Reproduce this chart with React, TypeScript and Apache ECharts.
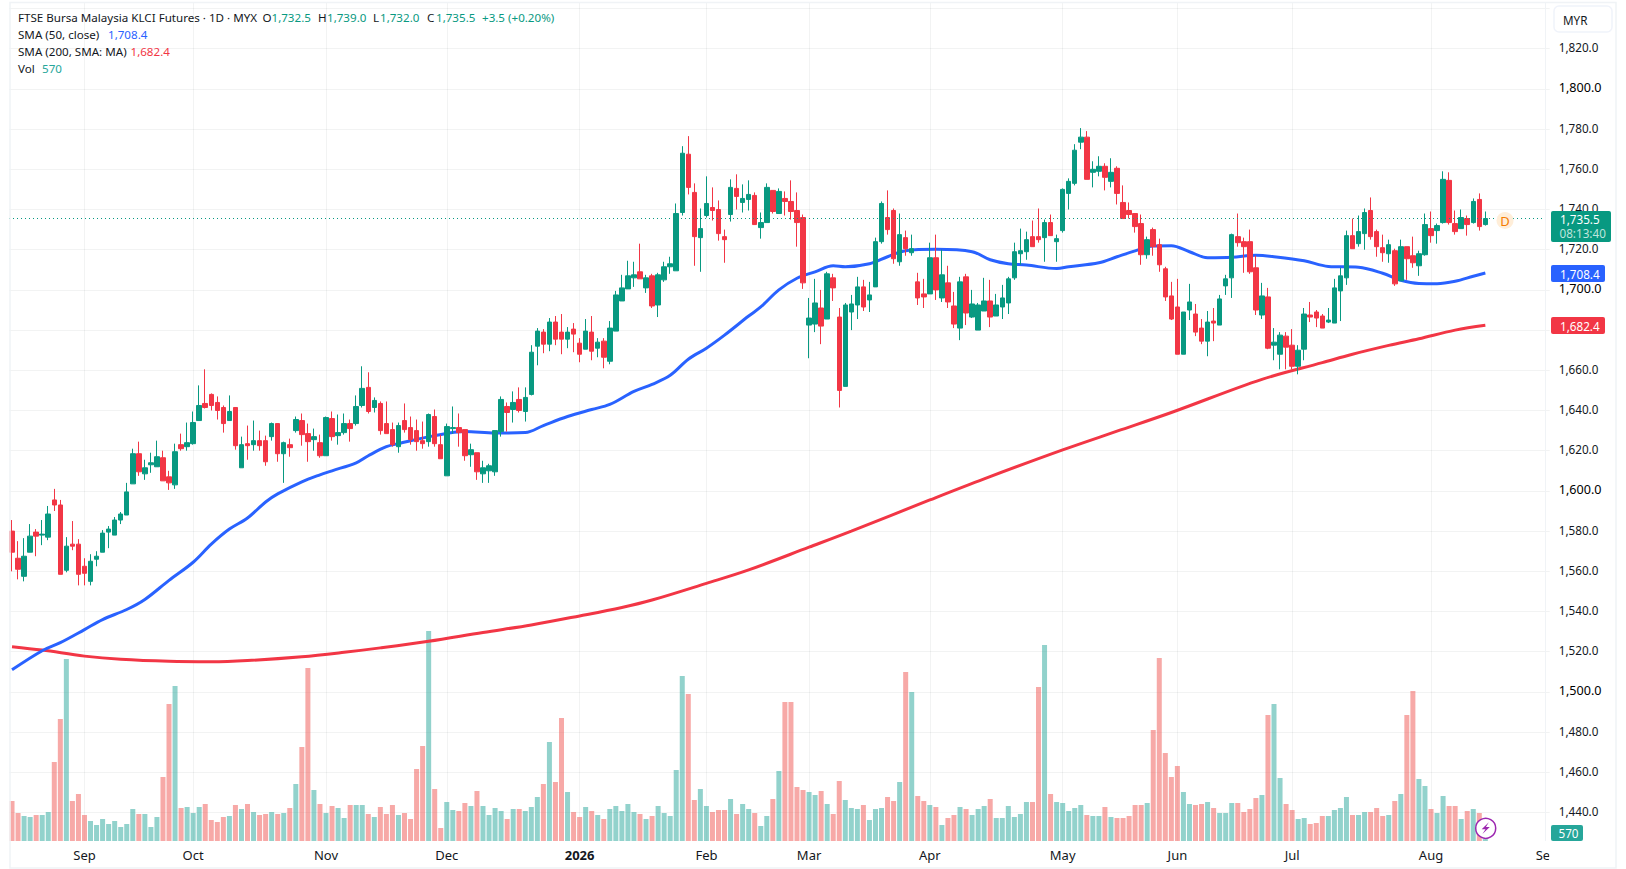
import React, { useEffect, useRef } from "react";
import * as echarts from "echarts";

const opens = [
1580,1566.5,1557.5,1569.5,1579.5,1578,1577,1595.5,1593,1560.5,
1573.5,1573.5,1562.5,1555,1566,1569.5,1579.5,1578,1585.5,1588,
1603.5,1618.5,1608.5,1613,1612,1616.5,1607,1603,1623,1622,
1623.5,1635,1643.5,1648,1644,1641.5,1635,1641.5,1611.5,1623.5,
1623,1625,1625,1627,1633.5,1618.5,1623,1630,1635,1628.5,
1625.5,1624,1617.5,1636,1627.5,1629,1633.5,1633.5,1642.5,1651.5,
1641.5,1643.5,1633.5,1630.5,1622,1635,1631.5,1630,1625,1624.5,
1637,1623,1607.5,1631,1631.5,1630.5,1618,1619,1608.5,1610,
1609.5,1629.5,1642,1640.5,1645.5,1639.5,1648,1672,1679,1673,
1684,1679,1675.5,1680.5,1673.5,1670.5,1679,1671,1674.5,1664.5,
1679.5,1694.5,1700.5,1706,1709,1701,1707,1692.5,1705,1711.5,
1709.5,1738.5,1767.5,1748.5,1726,1737,1741,1740,1726.5,1737.5,
1750.5,1743.5,1745,1747,1731,1733.5,1749.5,1738,1745.5,1744,
1739.5,1736,1682.5,1683,1691,1685.5,1706,1686.5,1652,1689,
1692.5,1701.5,1695,1701.5,1724,1736,1739.5,1714,1726,1718.5,
1704,1698,1698,1716,1696,1703.5,1692,1681,1706.5,1686.5,
1680,1689.5,1694.5,1687,1691.5,1693.5,1706,1718,1719,1726.5,
1726.5,1726,1733.5,1724,1729.5,1748,1753,1773.5,1776,1758.5,
1759,1761.5,1754,1760.5,1743.5,1739.5,1738,1733,1717.5,1730,
1722.5,1710.5,1697,1691.5,1668,1690,1688,1681,1674.5,1684.5,
1682.5,1702,1706,1726.5,1724,1724,1711,1687.5,1696.5,1672.5,
1668,1677,1672.5,1662,1670.5,1687.5,1689,1687,1684,1683.5,
1699.5,1706,1727,1723,1728,1739.5,1729,1721,1718,1719.5,
1704.5,1721.5,1717,1712,1717.5,1730.5,1729.5,1733.5,1754.5,1733,
1730.5,1735.5,1733.5,1745,1732.5];

const closes = [
1569.5,1561,1567.5,1577.5,1577.5,1578.5,1588.5,1593,1558.5,1572.5,
1572.5,1558.5,1559,1565,1567.5,1579,1581,1585.5,1588.5,1599.5,
1618.5,1609.5,1611.5,1614,1617,1605,1604,1619.5,1621,1624,
1634,1642.5,1641.5,1642.5,1640,1633.5,1639.5,1622.5,1623,1622.5,
1625,1622.5,1614.5,1633.5,1618.5,1624,1621.5,1635.5,1628,1624.5,
1627,1617.5,1636.5,1627,1629,1633.5,1631,1642,1651,1639.5,
1645,1630,1628.5,1623,1632.5,1630.5,1625.5,1624.5,1623.5,1638,
1623.5,1616,1632,1631.5,1629,1617.5,1620.5,1609.5,1611.5,1612.5,
1630,1645.5,1639,1644,1640,1646.5,1669,1679.5,1673,1684,
1675.5,1675.5,1679,1678,1668,1679.5,1669.5,1674,1666.5,1681,
1697.5,1701,1707,1707.5,1705.5,1706,1692,1707.5,1711.5,1713,
1738,1768,1751,1726.5,1730.5,1743,1739.5,1728,1725,1751,
1746.5,1745.5,1747.5,1732.5,1733.5,1751,1739,1749,1744,1739,
1733.5,1703.5,1686,1693.5,1682,1708,1701,1650,1692.5,1693,
1701.5,1691.5,1697.5,1724,1743,1730,1715.5,1727.5,1720.5,1720.5,
1696,1696.5,1716,1700,1707.5,1694,1683,1704,1688.5,1693,
1692.5,1694.5,1686.5,1692.5,1696,1705.5,1719,1719.5,1725,1721.5,
1725,1733.5,1727,1725.5,1750,1754,1769.5,1776,1755,1760,
1761.5,1756,1758.5,1748,1735.5,1737.5,1731.5,1717.5,1725,1721.5,
1712.5,1696.5,1685.5,1668,1689,1694,1679,1674.5,1684,1683.5,
1695.5,1705.5,1727.5,1723.5,1721.5,1709,1690,1697,1671,1674,
1677.5,1671.5,1662,1670,1688,1686.5,1686,1681,1685,1701,
1707,1727,1720.5,1729,1738.5,1726.5,1721.5,1718.5,1722.5,1703,
1721.5,1715.5,1713.5,1718,1732.5,1727,1732,1755,1733.5,1729,
1736,1732.5,1744,1731.5,1735.5];

const lows = [
1560,1556,1555,1569.5,1567.5,1573,1575.5,1590,1558.5,1559.5,
1570.5,1553,1553,1553,1562.5,1569.5,1571.5,1578,1583.5,1588,
1603.5,1607.5,1605.5,1609,1612,1605,1600.5,1601,1620,1620,
1623,1635,1641,1640,1635.5,1629,1635,1620.5,1611.5,1615.5,
1620,1620,1612.5,1625,1614.5,1604,1617,1629,1622.5,1614.5,
1620,1616.5,1617.5,1625,1623,1628,1624.5,1632.5,1641.5,1638.5,
1639,1628,1628.5,1622,1619,1629,1623,1620,1621,1622,
1622,1616,1607.5,1628.5,1622,1615,1612,1605.5,1604,1604,
1607.5,1627,1629.5,1634,1639,1634.5,1647.5,1662.5,1668.5,1669.5,
1672.5,1668,1671,1669,1664,1670.5,1665,1666.5,1661,1663,
1679.5,1694.5,1700.5,1701.5,1705.5,1698.5,1691,1686.5,1704,1708,
1709.5,1737,1747.5,1712,1709,1736,1734.5,1724.5,1713.5,1734,
1740,1738.5,1739.5,1732.5,1725.5,1733.5,1738,1738,1737,1735,
1721.5,1700.5,1666,1679,1673,1685.5,1694.5,1641.5,1652,1680,
1685.5,1689.5,1689,1701.5,1723,1727.5,1713,1712,1717,1717,
1692.5,1691,1698,1695,1694,1691,1681,1675,1682.5,1686,
1680,1689.5,1681.5,1687,1685.5,1688,1705,1712.5,1715,1721.5,
1723.5,1714,1727,1714,1728.5,1740,1752,1770,1755,1751,
1756.5,1749.5,1751,1742.5,1735.5,1735.5,1728.5,1712.5,1715.5,1717,
1709,1694.5,1685,1668,1668,1685,1677,1673,1667,1674.5,
1682.5,1697.5,1696,1721.5,1708.5,1708,1687.5,1685.5,1670.5,1665,
1660.5,1660.5,1660.5,1658,1665,1684,1681.5,1681,1683.5,1683.5,
1684.5,1702.5,1720.5,1721.5,1720,1725,1716.5,1714,1713.5,1702,
1704.5,1705,1711,1707,1717,1723.5,1723,1733,1732.5,1727.5,
1730.5,1727,1733,1729.5,1732];

const highs = [
1585.5,1575,1576.5,1583.5,1581,1585.5,1592.5,1601,1595.5,1577,
1585,1576,1566.5,1568.5,1570,1580.5,1582.5,1587,1589.5,1604,
1621,1624.5,1615.5,1619,1625,1620,1610,1623.5,1628.5,1634,
1639.5,1652.5,1660.5,1648.5,1647,1642.5,1647.5,1641.5,1627,1632.5,
1635,1630,1627.5,1634,1633.5,1624.5,1626,1637,1638.5,1633.5,
1631,1628,1637,1639.5,1638,1638.5,1635.5,1647.5,1662,1659,
1646.5,1644.5,1644.5,1634,1634,1643.5,1637,1635.5,1634.5,1638.5,
1640.5,1628,1633.5,1642,1638.5,1630.5,1623.5,1619,1615,1613.5,
1630,1647,1644,1649.5,1651.5,1651.5,1672.5,1681,1680.5,1686,
1687,1688,1681.5,1683.5,1676,1685.5,1687,1676,1676,1684.5,
1699.5,1707.5,1714.5,1714,1723,1707.5,1708,1708.5,1714,1716.5,
1743,1771.5,1776.5,1753,1740.5,1756.5,1751,1744.5,1730,1755,
1757.5,1752.5,1754.5,1748.5,1738.5,1753,1749.5,1750.5,1749,1754.5,
1748.5,1737.5,1696,1705.5,1700,1709,1708,1691,1693.5,1697.5,
1706.5,1705,1704,1726,1744,1749.5,1740.5,1738,1729.5,1727.5,
1708.5,1705.5,1723.5,1727.5,1720,1712,1699,1706.5,1708,1700,
1693.5,1706,1705,1698,1702.5,1706.5,1723.5,1730.5,1729,1734.5,
1740.5,1735,1737.5,1727.5,1750.5,1755.5,1772.5,1780.5,1779,1764,
1766.5,1763,1765.5,1761.5,1752,1743.5,1738,1737.5,1726.5,1731,
1725.5,1711.5,1704,1705.5,1689,1703,1693,1685.5,1689.5,1691,
1697.5,1707.5,1728,1738,1726,1730,1717,1703.5,1701,1681,
1679,1679,1680.5,1672.5,1691,1694,1690,1688,1691,1705.5,
1711,1729.5,1735.5,1737,1740.5,1746,1730,1727.5,1725,1720.5,
1725,1721.5,1726.5,1719.5,1738,1739,1733,1759,1758.5,1739.5,
1740,1737,1745.5,1748,1739];

const volumes = [
12000,8400,7500,7200,7800,7800,8700,23700,36600,54600,
12000,14100,7800,6000,4800,6600,5100,6000,4200,5100,
9600,8100,8100,4200,7200,19200,41100,46500,9900,10200,
8400,10200,11100,6300,5700,7200,7500,10800,9600,11100,
8700,7800,8100,8700,8100,8400,9900,17100,28200,51900,
15300,11100,8400,10500,9900,6900,10800,10800,10800,8100,
7200,10200,8100,10800,7800,8400,6600,21600,28500,63000,
15600,3900,11700,9300,9000,11400,10500,15000,10500,7800,
9900,9000,6600,9600,9600,9000,10200,13200,17100,29700,
17700,36900,14700,8700,7200,10200,9000,7800,6600,9600,
10500,9000,11100,8700,8100,6600,7500,10500,8400,7500,
21300,49500,44100,12300,15600,10500,8700,9300,9300,12600,
8100,11100,9600,8400,4500,7500,12600,21000,41700,41700,
16200,15300,14700,13800,15000,11100,8100,18000,12300,9900,
9600,10800,6300,9600,9900,13200,12000,17700,50700,44700,
13500,12000,10800,10200,4800,6900,7800,10200,9600,7800,
9600,10500,12600,6900,6900,10500,7200,8100,11700,11700,
46200,58800,14100,11700,11400,9000,9900,10800,7800,7500,
7500,10200,7200,6900,6900,7500,10800,10800,11400,33300,
54900,26400,19200,22500,14700,11100,10800,11100,11700,9900,
8400,8400,11400,11400,8700,9600,12900,13800,37800,41100,
18900,11100,9300,6600,6900,5100,5400,7500,7500,9300,
9900,13200,7800,7800,8700,8700,9900,7500,7800,12000,
14100,37800,45000,18600,16500,9600,8400,13500,10500,10500,
6600,9000,9600,8400,570];

const sma50Points = [
[1,1511],[6,1520.5],[9,1524.5],[13,1531],[16,1536],[20,1541],[23,1546],[27,1555.5],[31,1564.5],
[34,1573.5],[37,1581],[40,1586.5],[43,1594.5],[45,1598.5],[49,1604.5],[52,1608],[54,1610],[58,1614],
[60,1617.5],[63,1622],[65,1623.5],[71,1627.5],[76,1629.5],[81,1628.8],[86,1629],[89,1632.5],[93,1637],
[97,1640.5],[100,1643],[104,1649.5],[107,1653],[110,1657.5],[113,1665.5],[116,1671],[119,1677.5],
[123,1687],[125,1691.5],[128,1700],[131,1705.8],[134,1709],[137,1712],[139,1711.5],[143,1713],
[146,1716.5],[149,1719.5],[154,1720.2],[160,1719],[163,1715],[166,1713],[169,1712.4],[174,1710.6],
[176,1711.5],[181,1713.5],[184,1716.5],[187,1719.4],[190,1721.8],[193,1722],[196,1719],[199,1716],
[203,1716.2],[207,1717.2],[210,1716.5],[215,1714.5],[219,1711.7],[224,1711.3],[228,1708.3],[231,1704.8],
[234,1703.2],[237,1703.1],[240,1704.3],[243,1706.8],[245,1708.4]];

const sma200Points = [
[1,1522.5],[6,1520.8],[13,1517.8],[19,1516.2],[27,1515.2],[34,1515],[40,1515.6],[49,1517.5],[56,1519.7],
[62,1521.9],[70,1525.2],[79,1529.6],[87,1533.3],[95,1537.8],[102,1542],[107,1545.7],[116,1554],[123,1560.7],
[133,1572],[140,1580],[153,1595.5],[162,1606],[175,1620.4],[184,1629.7],[193,1639],[208,1655.5],[218,1663.8],
[223,1668],[229,1672.4],[234,1675.7],[240,1680],[245,1682.4]];

const monthTicks: [number, string][] = [
[13,"Sep"],[31,"Oct"],[53,"Nov"],[73,"Dec"],[95,"2026"],[116,"Feb"],[133,"Mar"],[153,"Apr"],[175,"May"],[194,"Jun"],[213,"Jul"],[236,"Aug"]];

const SLOTS = 254;
const categories = Array.from({ length: SLOTS }, (_, i) => String(i + 1));
const monthByIndex = new Map(monthTicks.map(([n, l]) => [n - 1, l]));

const GREEN = "#089981";
const RED = "#f23645";
const BLUE = "#2962ff";
const GRID = "rgba(42,46,57,0.06)";
const TEXT = "#131722";
const FONT = '"Noto Sans", sans-serif';

const legend: [number, number, string, string][] = [
  [18, 17, "FTSE Bursa Malaysia KLCI Futures · 1D · MYX", TEXT],
  [262.5, 17, "O", TEXT], [271.5, 17, "1,732.5", GREEN],
  [318, 17, "H", TEXT], [327, 17, "1,739.0", GREEN],
  [373, 17, "L", TEXT], [380, 17, "1,732.0", GREEN],
  [427, 17, "C", TEXT], [436, 17, "1,735.5", GREEN],
  [482, 17, "+3.5 (+0.20%)", GREEN],
  [18, 34, "SMA (50, close)", TEXT], [108, 34, "1,708.4", BLUE],
  [18, 51, "SMA (200, SMA: MA)", TEXT], [130.5, 51, "1,682.4", RED],
  [18, 68, "Vol", TEXT], [42, 68, "570", "#26a69a"],
];

function txt(x: number, y: number, text: string, fill: string, fontSize = 11.7, extra: any = {}) {
  return { type: "text", z: 102, x, y, silent: true, style: { text, fill, fontSize, fontFamily: FONT, verticalAlign: "middle", align: "left", ...extra } };
}
function tag(x: number, y: number, w: number, h: number, fill: string) {
  return { type: "rect", z: 101, silent: true, shape: { x, y, width: w, height: h, r: 2 }, style: { fill } };
}

export default function App() {
  const ref = useRef<HTMLDivElement>(null);
  useEffect(() => {
    document.body.style.margin = "0";
    const chart = echarts.init(ref.current!, undefined, { renderer: "svg" });
    const left = 9;
    const width = 1533.7;
    chart.setOption({
      animation: false,
      backgroundColor: "#ffffff",
      grid: [
        { left, width, top: 8.5, height: 804 },
        { left, width, top: 3, height: 838 },
      ],
      xAxis: [
        { type: "category", gridIndex: 0, data: categories, show: false, boundaryGap: true },
        {
          type: "category", gridIndex: 1, data: categories, boundaryGap: true,
          axisLine: { show: false }, axisTick: { show: false },
          splitLine: {
            show: true, alignWithLabel: true, lineStyle: { color: GRID, width: 1 },
            interval: (i: number) => monthByIndex.has(i),
          },
          axisLabel: {
            interval: (i: number) => monthByIndex.has(i),
            hideOverlap: false, margin: 7, color: TEXT, fontFamily: FONT, fontSize: 13,
            formatter: (_: string, i: number) => {
              const m = monthByIndex.get(i) ?? "";
              return m === "2026" ? "{y|2026}" : m;
            },
            rich: { y: { fontWeight: "bold", fontSize: 13, fontFamily: FONT, color: TEXT } },
          },
        },
      ],
      yAxis: [
        {
          type: "value", gridIndex: 0, position: "right", min: 1440, max: 1840, interval: 20, scale: true,
          axisLine: { show: false },
          axisTick: { show: true, length: 7, lineStyle: { color: GRID } },
          splitLine: { show: true, lineStyle: { color: GRID, width: 1 } },
          axisLabel: {
            margin: 16, color: TEXT, fontFamily: FONT, fontSize: 11.7, showMinLabel: true, showMaxLabel: true,
            padding: [0, 0, 3, 0],
            formatter: (v: number) => {
              if (v >= 1840 || v === 1680) return "";
              const s = v.toLocaleString("en-US", { minimumFractionDigits: 1, maximumFractionDigits: 1 });
              return v % 100 === 0 ? `{b|${s}}` : s;
            },
            rich: { b: { fontSize: 12.6, color: "#000000", fontFamily: FONT } },
          },
        },
        { type: "value", gridIndex: 1, min: 0, max: 251400, show: false },
      ],
      series: [
        {
          name: "Vol", type: "bar", xAxisIndex: 1, yAxisIndex: 1, barWidth: 5, z: 1, silent: true,
          data: volumes.map((v, i) => ({
            value: v,
            itemStyle: { color: closes[i] >= opens[i] ? "rgba(38,166,154,0.5)" : "rgba(239,83,80,0.5)" },
          })),
        },
        {
          name: "SMA 200", type: "line", xAxisIndex: 0, yAxisIndex: 0, z: 2, showSymbol: false, symbol: "none", smooth: 0.35, silent: true,
          lineStyle: { color: RED, width: 3 },
          data: sma200Points.map(([n, v]) => [n - 1, v]),
        },
        {
          name: "SMA 50", type: "line", xAxisIndex: 0, yAxisIndex: 0, z: 2, showSymbol: false, symbol: "none", smooth: 0.35, silent: true,
          lineStyle: { color: BLUE, width: 3 },
          data: sma50Points.map(([n, v]) => [n - 1, v]),
        },
        {
          name: "FKLI", type: "candlestick", xAxisIndex: 0, yAxisIndex: 0, barWidth: 5, z: 3, silent: true,
          itemStyle: { color: GREEN, color0: RED, borderColor: GREEN, borderColor0: RED, borderWidth: 1 },
          data: opens.map((o, i) => [o, closes[i], lows[i], highs[i]]),
          markLine: {
            silent: true, symbol: "none", label: { show: false }, animation: false,
            lineStyle: { color: GREEN, type: [1, 3], width: 1 },
            data: [{ yAxis: closes[closes.length - 1] }],
          },
        },
      ],
      graphic: [
        // pane frame and price-scale separator
        { type: "rect", z: 90, silent: true, shape: { x: 10, y: 2.5, width: 1606, height: 865.5 }, style: { fill: "none", stroke: "#f0f3f6", lineWidth: 1.5 } },
        { type: "line", z: 90, silent: true, shape: { x1: 1545.5, y1: 3, x2: 1545.5, y2: 841 }, style: { stroke: "#f0f3f6", lineWidth: 1 } },
        // clipped future month label
        txt(1535.7, 854.5, "Sep", TEXT, 13),
        { type: "rect", z: 103, silent: true, shape: { x: 1549.3, y: 845, width: 30, height: 20 }, style: { fill: "#ffffff" } },
        // currency button
        { type: "rect", z: 101, silent: true, shape: { x: 1554, y: 6, width: 58, height: 26, r: 5 }, style: { fill: "#ffffff", stroke: "#f0f3fa", lineWidth: 1.5 } },
        txt(1563, 20, "MYR", TEXT, 11.7),
        // last-value tags
        tag(1551, 211, 60, 31, GREEN),
        txt(1560, 219, "1,735.5", "#ffffff"),
        txt(1559.5, 232.7, "08:13:40", "#bfe5dc"),
        tag(1551, 265, 54, 17, BLUE),
        txt(1560, 273.5, "1,708.4", "#ffffff"),
        tag(1551, 317, 54, 17, RED),
        txt(1560, 325.5, "1,682.4", "#ffffff"),
        tag(1551, 825, 32, 16, "#26a69a"),
        txt(1558.5, 833, "570", "#ffffff"),
        // session marker
        { type: "circle", z: 101, silent: true, shape: { cx: 1505, cy: 220.5, r: 8.5 }, style: { fill: "#ffeed9" } },
        txt(1505, 220.5, "D", "#f57c00", 13, { align: "center" }),
        // lightning button
        { type: "circle", z: 101, silent: true, shape: { cx: 1485.7, cy: 828.3, r: 10 }, style: { fill: "#ffffff", stroke: "#9c27b0", lineWidth: 1.5 } },
        { type: "polygon", z: 102, silent: true, shape: { points: [[1488.8, 822.2], [1481.7, 829.2], [1485.5, 829.2], [1482.4, 834], [1489.8, 826.9], [1485.9, 826.9]] }, style: { fill: "#9c27b0" } },
        ...legend.map(([x, y, t, c]) => txt(x, y, t, c, 11.6)),
      ],
    });
    return () => chart.dispose();
  }, []);
  return <div ref={ref} style={{ position: "fixed", left: 0, top: 0, width: 1626, height: 869, background: "#fff" }} />;
}
